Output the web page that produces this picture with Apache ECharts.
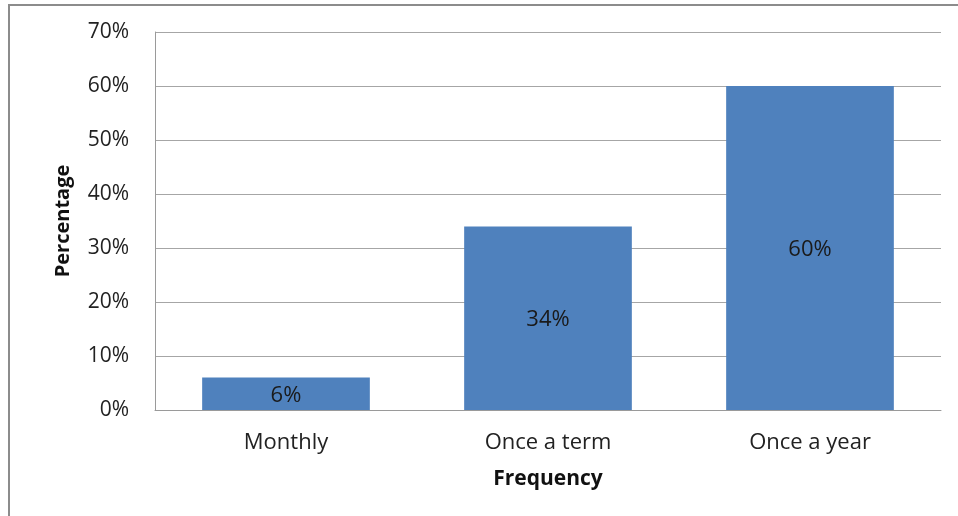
<!DOCTYPE html>
<html>
<head>
<meta charset="utf-8">
<style>
  html, body { margin: 0; padding: 0; background: #fff; }
  #chart { width: 958px; height: 516px; }
</style>
<script src="https://cdn.jsdelivr.net/npm/echarts@6/dist/echarts.min.js"></script>
</head>
<body>
<div id="chart"></div>
<script>
// Survey results: how often respondents do it
const categories = ['Monthly', 'Once a term', 'Once a year'];
const percentages = [6, 34, 60];
const yTicks = { min: 0, max: 70, step: 10 };

const FONT = '"Open Sans", "Liberation Sans", sans-serif';

const chart = echarts.init(document.getElementById('chart'), null, { renderer: 'canvas' });

chart.setOption({
  animation: false,
  backgroundColor: '#ffffff',
  graphic: [{
    type: 'rect',
    shape: { x: 9, y: 5, width: 1000, height: 560 },
    style: { fill: 'none', stroke: '#8c8c8c', lineWidth: 2 },
    silent: true,
    z: 100
  }],
  grid: { left: 155, right: 17, top: 32, bottom: 106, containLabel: false },
  xAxis: {
    type: 'category',
    data: categories,
    name: 'Frequency',
    nameLocation: 'middle',
    nameGap: 59,
    nameTextStyle: { fontFamily: FONT, fontSize: 21, fontWeight: 'bold', color: '#111' },
    axisLine: { lineStyle: { color: '#9a9a9a', width: 1 } },
    axisTick: { show: false },
    axisLabel: { fontFamily: FONT, fontSize: 22, color: '#222', margin: 22 }
  },
  yAxis: {
    type: 'value',
    min: yTicks.min,
    max: yTicks.max,
    interval: yTicks.step,
    name: 'Percentage',
    nameLocation: 'middle',
    nameGap: 82,
    nameRotate: 90,
    nameTextStyle: { fontFamily: FONT, fontSize: 20, fontWeight: 'bold', color: '#111' },
    axisLine: { show: true, lineStyle: { color: '#9a9a9a', width: 1 } },
    axisTick: { show: false },
    axisLabel: { fontFamily: FONT, fontSize: 21, color: '#222', margin: 26, formatter: '{value}%' },
    splitLine: { lineStyle: { color: '#a6a6a6', width: 1 } }
  },
  series: [{
    type: 'bar',
    data: percentages,
    barCategoryGap: '36%',
    itemStyle: { color: '#4f81bd' },
    label: {
      show: true,
      position: 'inside',
      offset: [0, 2],
      formatter: '{c}%',
      fontFamily: FONT,
      fontSize: 22,
      color: '#1a1a1a'
    }
  }]
});
</script>
</body>
</html>
